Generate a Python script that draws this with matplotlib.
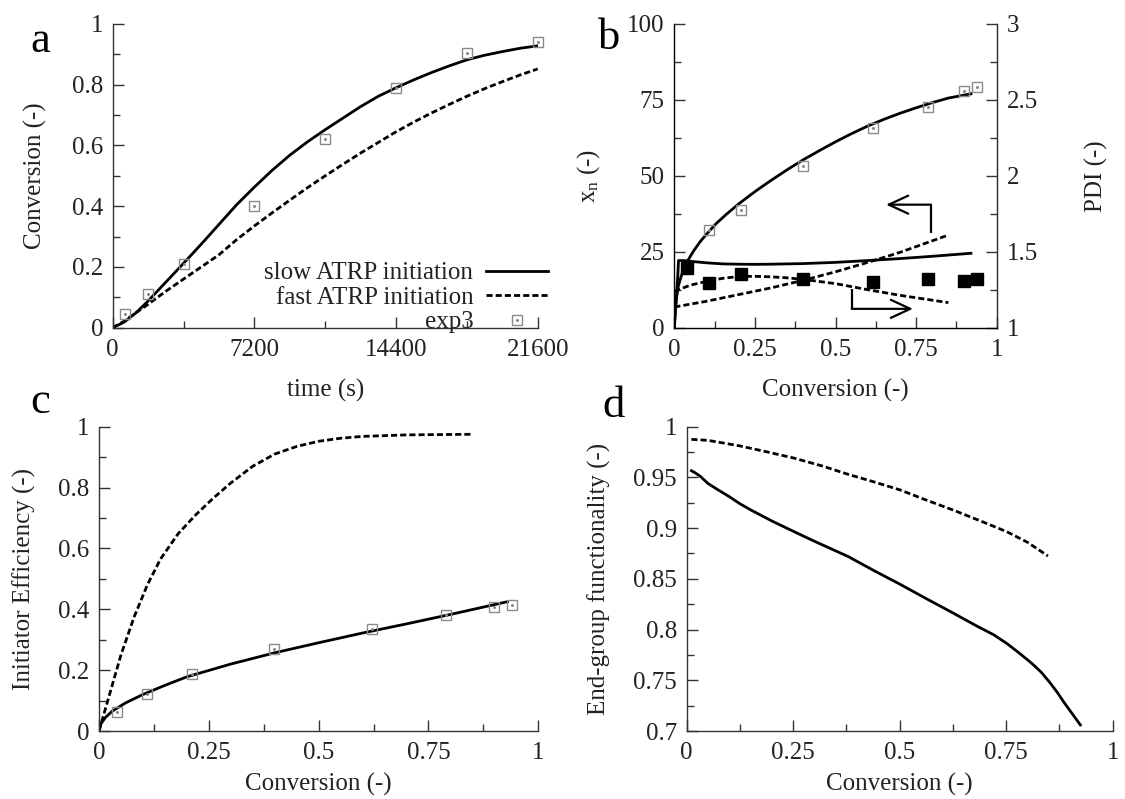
import numpy as np
import matplotlib
matplotlib.use("Agg")
import matplotlib.pyplot as plt
from matplotlib.ticker import MultipleLocator, FuncFormatter

plt.rcParams["font.family"] = "serif"
plt.rcParams["font.serif"] = ["Liberation Serif", "DejaVu Serif"]
plt.rcParams["mathtext.default"] = "regular"

# ---- panel a: conversion vs time ----
t_model = [0, 600, 1200, 1800, 2700, 3600, 4500, 5400, 6300, 7200, 8100, 9000, 9900, 10800,
           11700, 12600, 13500, 14400, 15300, 16200, 17100, 18000, 18900, 19800, 20700, 21600]
conv_slow = [0, 0.019, 0.05, 0.088, 0.15, 0.212, 0.275, 0.34, 0.405, 0.463, 0.518, 0.568, 0.612, 0.652,
             0.69, 0.728, 0.762, 0.79, 0.816, 0.84, 0.862, 0.882, 0.897, 0.909, 0.92, 0.928]
conv_fast = [0, 0.022, 0.05, 0.077, 0.12, 0.16, 0.2, 0.24, 0.29, 0.335, 0.378, 0.42, 0.461, 0.50,
             0.538, 0.575, 0.61, 0.645, 0.677, 0.707, 0.735, 0.762, 0.787, 0.81, 0.832, 0.852]
t_exp = [600, 1800, 3600, 7200, 10800, 14400, 18000, 21600]
conv_exp = [0.044, 0.11, 0.211, 0.40, 0.621, 0.789, 0.904, 0.94]

# ---- panel b: chain length and PDI vs conversion ----
xb_slow = [0, 0.003, 0.007, 0.012, 0.02, 0.03, 0.04, 0.06, 0.08, 0.1, 0.13, 0.16, 0.2, 0.25, 0.3,
           0.35, 0.4, 0.45, 0.5, 0.55, 0.6, 0.65, 0.7, 0.75, 0.8, 0.85, 0.92]
xn_slow = [0, 6, 10, 13.5, 16.5, 19.5, 21.8, 25.3, 28.3, 30.8, 34.3, 37.2, 40.8, 44.8, 48.5,
           52, 55.3, 58.3, 61.2, 63.9, 66.4, 68.6, 70.6, 72.4, 74.1, 75.6, 77]
xp_slow = [0, 0.011, 0.013, 0.03, 0.06, 0.1, 0.15, 0.2, 0.25, 0.3, 0.4, 0.5, 0.6, 0.7, 0.8, 0.92]
pdi_slow = [1.0, 1.35, 1.442, 1.442, 1.435, 1.427, 1.42, 1.418, 1.417, 1.418, 1.422, 1.43, 1.442,
            1.455, 1.47, 1.49]
xb_fast = [0, 0.1, 0.2, 0.3, 0.4, 0.5, 0.6, 0.7, 0.85]
xn_fast = [6.8, 8.7, 10.9, 13.1, 15.6, 18.4, 21.5, 24.8, 30.5]
xp_fast = [0, 0.05, 0.1, 0.15, 0.2, 0.25, 0.3, 0.35, 0.4, 0.5, 0.6, 0.7, 0.85]
pdi_fast = [1.24, 1.28, 1.305, 1.325, 1.337, 1.338, 1.335, 1.328, 1.318, 1.29, 1.25, 1.213, 1.165]
conv_b_exp = [0.04, 0.107, 0.208, 0.40, 0.617, 0.787, 0.898, 0.938]
xn_exp = [19.7, 32.3, 38.7, 53.1, 65.7, 72.6, 77.8, 79.2]
pdi_exp = [1.394, 1.296, 1.355, 1.322, 1.300, 1.318, 1.307, 1.322]

# ---- panel c: initiator efficiency ----
xc_fast = [0, 0.02, 0.05, 0.08, 0.11, 0.14, 0.18, 0.22, 0.26, 0.3, 0.35, 0.4, 0.45, 0.5, 0.55,
           0.6, 0.7, 0.85]
eff_fast = [0, 0.10, 0.25, 0.375, 0.48, 0.565, 0.648, 0.71, 0.765, 0.815, 0.87, 0.91, 0.935, 0.952,
            0.962, 0.968, 0.973, 0.975]
xc_slow = [0, 0.005, 0.015, 0.03, 0.06, 0.1, 0.15, 0.2, 0.3, 0.4, 0.5, 0.6, 0.7, 0.8, 0.93]
eff_slow = [0, 0.025, 0.045, 0.065, 0.092, 0.12, 0.15, 0.178, 0.22, 0.257, 0.29, 0.322, 0.352,
            0.383, 0.425]
conv_c_exp = [0.041, 0.11, 0.211, 0.398, 0.622, 0.791, 0.90, 0.94]
eff_exp = [0.0635, 0.122, 0.187, 0.268, 0.334, 0.381, 0.409, 0.415]

# ---- panel d: end-group functionality ----
xd_fast = [0.011, 0.05, 0.125, 0.19, 0.252, 0.32, 0.379, 0.44, 0.501, 0.56, 0.624, 0.69, 0.751,
           0.8, 0.848]
egf_fast = [0.9875, 0.9865, 0.981, 0.975, 0.969, 0.961, 0.953, 0.9455, 0.9376, 0.928, 0.918,
            0.907, 0.8965, 0.886, 0.8725]
xd_slow = [0.011, 0.02, 0.032, 0.05, 0.074, 0.1, 0.125, 0.15, 0.2, 0.252, 0.3, 0.379, 0.44, 0.501,
           0.56, 0.624, 0.683, 0.72, 0.751, 0.78, 0.81, 0.832, 0.852, 0.87, 0.886, 0.905, 0.924]
egf_slow = [0.9566, 0.9545, 0.951, 0.944, 0.9376, 0.931, 0.924, 0.918, 0.907, 0.8965, 0.887, 0.872,
            0.858, 0.8446, 0.831, 0.8166, 0.803, 0.795, 0.7864, 0.777, 0.7667, 0.758, 0.748,
            0.738, 0.728, 0.717, 0.706]

FS = 18
TXT = "#222222"
DASH = (0, (2.2, 1.1))
SQ_KW = dict(ls="none", marker="s", ms=7.5, mfc="none", mec="#8a8a8a", mew=1.0, clip_on=False)
DOT_KW = dict(ls="none", marker="o", ms=1.2, color="#8a8a8a", clip_on=False)
ARROW = dict(arrowstyle="->,head_length=1.4,head_width=0.65", lw=1.6, color="black",
             shrinkA=0, shrinkB=0)


def fmt(v, pos):
    return "%g" % v


def style(ax, xmaj, xmin, ymaj, ymin, right=False):
    ax.spines["top"].set_visible(False)
    if not right:
        ax.spines["right"].set_visible(False)
    for s in ax.spines.values():
        s.set_linewidth(1.0)
        s.set_color("#333333")
    ax.xaxis.set_major_locator(MultipleLocator(xmaj))
    ax.xaxis.set_minor_locator(MultipleLocator(xmin))
    ax.yaxis.set_major_locator(MultipleLocator(ymaj))
    ax.yaxis.set_minor_locator(MultipleLocator(ymin))
    ax.xaxis.set_major_formatter(FuncFormatter(fmt))
    ax.yaxis.set_major_formatter(FuncFormatter(fmt))
    ax.tick_params(which="both", direction="in", colors="#333333", labelcolor=TXT,
                   labelsize=FS, top=False, right=False)
    ax.tick_params(which="major", length=8, width=1)
    ax.tick_params(which="minor", length=5, width=1)
    ax.tick_params(axis="y", pad=7)
    ax.tick_params(axis="x", pad=8)


def exp_points(ax, x, y):
    sq, = ax.plot(x, y, **SQ_KW)
    dot, = ax.plot(x, y, **DOT_KW)
    return (sq, dot)


fig = plt.figure(figsize=(11.25, 7.99), dpi=100)

# a
ax = fig.add_axes([0.1002, 0.5899, 0.3778, 0.3801])
l1, = ax.plot(t_model, conv_slow, color="black", lw=2)
l2, = ax.plot(t_model, conv_fast, color="black", lw=2, ls=DASH)
h3 = exp_points(ax, t_exp, conv_exp)
ax.set_xlim(0, 21600)
ax.set_ylim(0, 1)
style(ax, 7200, 3600, 0.2, 0.1)
ax.set_xlabel("time (s)", fontsize=FS, color=TXT, labelpad=13)
ax.set_ylabel("Conversion (-)", fontsize=FS, color=TXT, labelpad=18)
ax.legend([l1, l2, h3], ["slow ATRP initiation", "fast ATRP initiation", "exp3"],
          loc="lower right", bbox_to_anchor=(1.06, -0.068), frameon=False, markerfirst=False,
          fontsize=FS, handlelength=2.5, labelspacing=0.08, borderaxespad=0.2,
          handletextpad=0.5, labelcolor=TXT)
fig.text(0.036, 0.949, "a", fontsize=32, ha="center", va="center")

# b
ax = fig.add_axes([0.5994, 0.5899, 0.2866, 0.3801])
ax2 = ax.twinx()
ax.plot(xb_slow, xn_slow, color="black", lw=2)
ax.plot(xb_fast, xn_fast, color="black", lw=2, ls=DASH)
exp_points(ax, conv_b_exp, xn_exp)
ax2.plot(xp_slow, pdi_slow, color="black", lw=2)
ax2.plot(xp_fast, pdi_fast, color="black", lw=2, ls=DASH)
ax2.plot(conv_b_exp, pdi_exp, ls="none", marker="s", ms=8, color="black")
ax.set_xlim(0, 1)
ax.set_ylim(0, 100)
ax2.set_ylim(1, 3)
style(ax, 0.25, 0.125, 25, 12.5, right=True)
ax2.spines["top"].set_visible(False)
ax2.spines["right"].set_color("#333333")
ax2.yaxis.set_major_locator(MultipleLocator(0.5))
ax2.yaxis.set_minor_locator(MultipleLocator(0.25))
ax2.yaxis.set_major_formatter(FuncFormatter(fmt))
ax2.tick_params(which="both", direction="in", colors="#333333", labelcolor=TXT, labelsize=FS, pad=7)
ax2.tick_params(which="major", length=8, width=1)
ax2.tick_params(which="minor", length=5, width=1)
ax.set_xlabel("Conversion (-)", fontsize=FS, color=TXT, labelpad=13)
ax.set_ylabel(r"x$_{n}$ (-)", fontsize=FS, color=TXT, labelpad=18)
ax2.set_ylabel("PDI (-)", fontsize=FS, color=TXT, labelpad=34)
# bent arrows pointing to the matching axis
ax.plot([0.796, 0.796], [31.2, 40.5], color="black", lw=1.6, solid_capstyle="butt")
ax.annotate("", xy=(0.657, 40.5), xytext=(0.796, 40.5), arrowprops=ARROW)
ax.plot([0.55, 0.55], [12.6, 6.2], color="black", lw=1.6, solid_capstyle="butt")
ax.annotate("", xy=(0.74, 6.2), xytext=(0.55, 6.2), arrowprops=ARROW)
fig.text(0.541, 0.952, "b", fontsize=32, ha="center", va="center")

# c
ax = fig.add_axes([0.088, 0.0851, 0.3905, 0.3809])
ax.plot(xc_fast, eff_fast, color="black", lw=2, ls=DASH)
ax.plot(xc_slow, eff_slow, color="black", lw=2)
exp_points(ax, conv_c_exp, eff_exp)
ax.set_xlim(0, 1)
ax.set_ylim(0, 1)
style(ax, 0.25, 0.125, 0.2, 0.1)
ax.set_xlabel("Conversion (-)", fontsize=FS, color=TXT, labelpad=6)
ax.set_ylabel("Initiator Efficiency (-)", fontsize=FS, color=TXT, labelpad=16)
fig.text(0.036, 0.497, "c", fontsize=32, ha="center", va="center")

# d
ax = fig.add_axes([0.6104, 0.0851, 0.3787, 0.3809])
ax.plot(xd_fast, egf_fast, color="black", lw=2, ls=DASH)
ax.plot(xd_slow, egf_slow, color="black", lw=2)
ax.set_xlim(0, 1)
ax.set_ylim(0.7, 1)
style(ax, 0.25, 0.125, 0.05, 0.025)
ax.set_xlabel("Conversion (-)", fontsize=FS, color=TXT, labelpad=6)
ax.set_ylabel("End-group functionality (-)", fontsize=FS, color=TXT, labelpad=16)
fig.text(0.545, 0.492, "d", fontsize=32, ha="center", va="center")

fig.savefig("out.png", dpi=100)
